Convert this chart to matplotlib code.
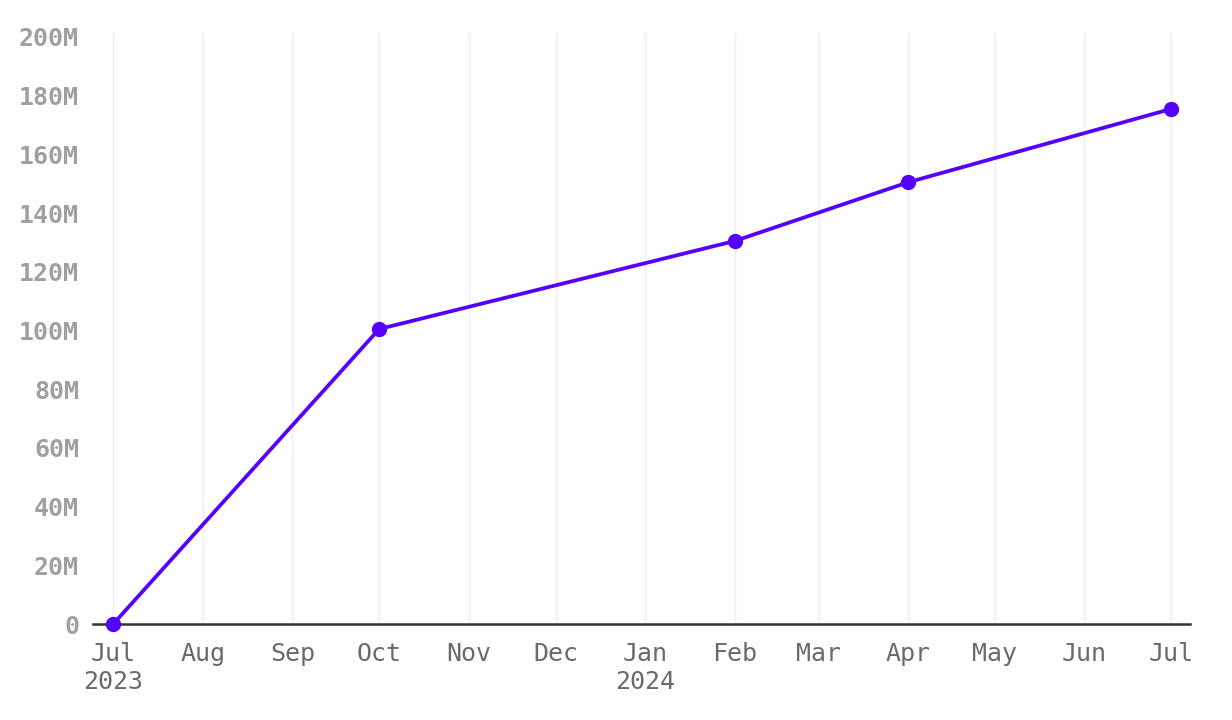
import matplotlib
matplotlib.use("Agg")
import matplotlib.pyplot as plt
import matplotlib.dates as mdates
import numpy as np
import datetime as dt

dates = ["2023-07-01", "2023-10-01", "2024-02-01", "2024-04-01", "2024-07-01"]
values_m = [0, 100.5, 130.5, 150.5, 175.5]
y_ticks_m = [0, 20, 40, 60, 80, 100, 120, 140, 160, 180, 200]
y_tick_labels = ["0", "20M", "40M", "60M", "80M", "100M", "120M", "140M", "160M", "180M", "200M"]
month_ticks = ["2023-07-01", "2023-08-01", "2023-09-01", "2023-10-01", "2023-11-01", "2023-12-01",
               "2024-01-01", "2024-02-01", "2024-03-01", "2024-04-01", "2024-05-01", "2024-06-01",
               "2024-07-01"]
month_labels = ["Jul\n2023", "Aug", "Sep", "Oct", "Nov", "Dec", "Jan\n2024", "Feb", "Mar", "Apr",
                "May", "Jun", "Jul"]

plt.rcParams['font.family'] = ['DejaVu Sans Mono', 'DejaVu Sans']

x = [dt.datetime.fromisoformat(d) for d in dates]
y = [v * 1e6 for v in values_m]
xt = [dt.datetime.fromisoformat(d) for d in month_ticks]

fig = plt.figure(figsize=(12.32, 7.2), dpi=100)
ax = fig.add_axes([93/1232, 1 - 624/720, (1190 - 93)/1232, (624 - 33)/720])

ax.plot(x, y, color="#5500ff", linewidth=2.7, marker="o", markersize=10, zorder=3, clip_on=False)

ax.set_xlim(dt.datetime(2023, 6, 24), dt.datetime(2024, 7, 7, 12))
ax.set_ylim(0, 200e6 * (624 - 33) / (624 - 37))

ax.set_xticks(xt)
ax.set_xticklabels(month_labels, fontsize=18, color="#6a6a6a", linespacing=1.2)
ax.set_yticks([v * 1e6 for v in y_ticks_m])
ax.set_yticklabels(y_tick_labels, fontsize=18, color="#a0a0a0", fontweight="bold")

ax.tick_params(axis="x", length=0, pad=13)
ax.tick_params(axis="y", length=0, pad=10)

ax.grid(axis="x", color="#eeeeee", linewidth=1)
ax.grid(axis="y", visible=False)
for s in ["top", "right", "left"]:
    ax.spines[s].set_visible(False)
ax.spines["bottom"].set_color("#333333")
ax.spines["bottom"].set_linewidth(1.8)
ax.set_axisbelow(True)

fig.savefig("out.png", dpi=100)
